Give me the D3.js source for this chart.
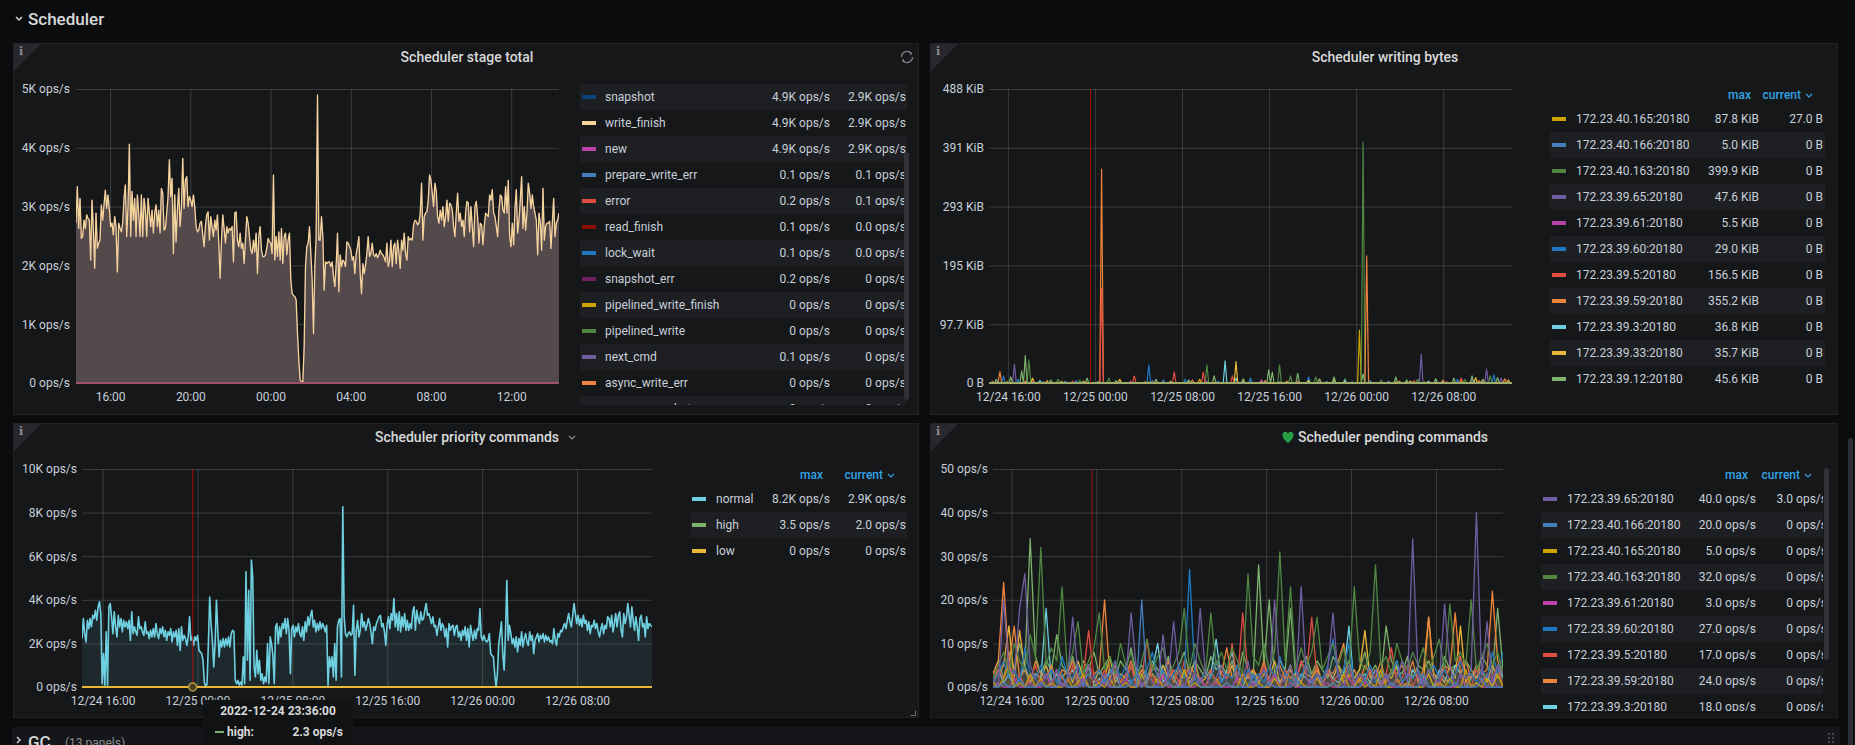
<!DOCTYPE html>
<html>
<head>
<meta charset="utf-8">
<title>Scheduler</title>
<script src="https://cdn.jsdelivr.net/npm/d3@7/dist/d3.min.js"></script>
<style>
body { margin: 0; background: #0b0c0e; overflow: hidden; }
svg text { font-family: Roboto, "Noto Sans", sans-serif; }
</style>
</head>
<body>
<script>

// ---------- data: Scheduler stage total (K ops/s, 2022-12-25 14:18 .. 12-26 14:23) ----------
var stageWriteFinish = [
2.72,3.34,2.63,3.14,2.46,2.49,2.77,2.63,2.86,2.80,2.77,2.09,3.11,2.63,1.95,2.89,2.29,2.38,2.43,3.03,
2.77,3.03,3.28,2.97,3.20,2.94,2.66,2.72,2.52,2.83,2.66,1.89,2.72,2.63,2.57,2.72,3.14,3.37,2.49,3.00,
4.06,2.49,3.26,2.77,3.14,2.49,3.20,2.89,2.49,3.20,2.49,3.14,2.94,2.49,3.14,2.89,2.66,2.94,2.55,2.89,
3.03,2.66,2.94,2.55,3.31,3.23,2.60,2.63,2.89,3.17,3.80,3.17,3.48,2.20,3.20,2.40,2.94,3.31,2.66,2.97,
3.82,2.97,3.45,3.51,3.00,3.17,3.11,3.00,3.20,3.00,2.66,2.57,2.60,2.72,2.75,2.52,2.32,2.66,2.86,2.91,
2.43,2.83,2.66,2.49,2.77,2.60,2.86,2.38,1.78,2.40,2.86,2.63,2.38,2.66,2.55,2.63,2.60,2.66,2.06,2.89,
2.91,2.43,2.32,2.55,2.29,2.38,2.03,2.43,2.83,2.72,2.49,2.26,2.20,2.43,2.23,2.55,1.86,2.49,2.66,2.26,
2.15,2.15,2.18,2.29,2.46,2.40,2.38,2.20,3.54,2.09,2.49,2.15,2.57,2.09,2.63,2.03,2.49,2.55,2.18,2.43,
2.55,1.75,1.52,1.49,1.47,1.41,0.84,0.39,0.05,0.02,0.02,0.61,1.98,2.32,2.38,2.66,2.20,1.75,0.84,1.98,
2.49,4.90,2.43,2.43,
2.83,2.49,1.58,2.06,2.03,2.06,2.06,1.98,2.06,1.81,1.64,2.01,2.55,1.55,2.18,1.98,2.09,2.06,1.98,2.40,
2.38,2.32,2.26,2.09,2.15,1.86,2.20,2.32,2.49,1.86,1.52,2.03,1.86,2.01,2.20,2.49,2.15,2.20,2.38,2.18,
2.15,2.20,2.13,2.18,2.26,2.20,2.18,2.13,2.06,2.38,1.98,2.09,2.43,1.98,2.32,2.38,2.03,2.43,2.23,1.95,
2.43,2.26,2.55,2.20,2.09,2.49,2.43,2.46,2.43,2.69,2.77,2.75,2.69,2.72,2.89,3.40,2.43,2.83,2.89,2.91,
3.11,3.54,3.45,3.23,3.00,3.40,3.26,2.83,2.72,2.94,2.77,3.00,2.66,2.83,3.11,2.75,3.06,3.03,2.94,2.66,
2.49,2.89,3.23,2.75,2.89,2.66,2.77,2.49,2.89,3.09,3.06,2.57,3.00,2.66,2.32,3.00,3.09,2.83,2.38,2.72,
2.69,2.35,2.66,2.89,2.86,2.83,3.20,3.11,3.29,2.89,2.83,2.66,2.49,2.94,3.20,3.17,2.94,2.89,3.34,2.89,
3.45,2.49,2.32,2.72,2.35,2.97,3.29,2.55,2.77,3.11,3.51,2.63,3.00,2.60,2.89,3.40,3.23,2.97,3.20,3.00,
2.89,2.77,2.18,2.89,2.72,2.26,3.31,2.43,2.66,2.72,2.72,2.75,2.29,2.72,3.14,2.49,2.72,2.77,2.89
];
// near-zero stages (ops/s)
var stagePrepareWriteErr = [0.1,0.1,0.1,0.1,0.1,0.1,0.1];
var stageError = [0.1,0.2,0.1,0.1,0.2,0.1,0.1];
var stageReadFinish = [0.1,0.0,0.1,0.0,0.1,0.0,0.0];
var stageLockWait = [0.0,0.1,0.0,0.1,0.0,0.1,0.0];
var stageSnapshotErr = [0.1,0.2,0.0,0.1,0.0,0.2,0];
var stagePipelinedWriteFinish = [0,0,0,0,0,0,0];
var stagePipelinedWrite = [0,0,0,0,0,0,0];
var stageNextCmd = [0.1,0,0,0.1,0,0,0];
var stageAsyncWriteErr = [0,0,0,0,0,0,0];
var stageAsyncSnapshotErr = [0,0,0,0,0,0,0];

var stageNames = ["snapshot","write_finish","new","prepare_write_err","error","read_finish","lock_wait",
  "snapshot_err","pipelined_write_finish","pipelined_write","next_cmd","async_write_err","async_snapshot_err"];
var stageColors = ["#0A437C","#F4D598","#BA43A9","#447EBC","#E24D42","#890F02","#1F78C1",
  "#6D1F62","#CCA300","#508642","#705DA0","#EF843C","#962D82"];
var stageMax = ["4.9K ops/s","4.9K ops/s","4.9K ops/s","0.1 ops/s","0.2 ops/s","0.1 ops/s","0.1 ops/s",
  "0.2 ops/s","0 ops/s","0 ops/s","0.1 ops/s","0 ops/s","0 ops/s"];
var stageCur = ["2.9K ops/s","2.9K ops/s","2.9K ops/s","0.1 ops/s","0.1 ops/s","0.0 ops/s","0.0 ops/s",
  "0 ops/s","0 ops/s","0 ops/s","0 ops/s","0 ops/s","0 ops/s"];

// ---------- data: Scheduler priority commands (K ops/s, 2022-12-24 14:16 .. 12-26 14:19) ----------
var prioNormal = [
2.22,3.14,2.45,2.07,3.06,2.68,3.14,2.76,3.29,3.14,3.52,3.06,3.68,3.91,3.37,0.15,1.53,0.08,2.53,0.08,
3.68,3.83,3.22,2.45,3.45,2.76,2.30,3.29,2.76,3.14,2.53,3.06,2.76,2.99,2.68,3.06,2.14,3.45,2.45,2.76,
2.53,2.37,3.22,2.68,2.76,2.53,2.37,2.99,2.45,2.53,2.22,2.60,2.30,2.68,2.30,2.91,2.45,2.22,2.68,2.45,
2.76,2.30,2.60,2.14,2.53,2.37,2.68,2.07,2.53,2.30,2.60,1.91,2.68,1.68,2.76,2.14,2.37,2.22,1.91,2.30,
3.22,2.14,2.30,1.91,2.30,2.14,2.37,1.68,1.61,1.53,1.23,0.23,0.0,0.15,1.99,4.13,2.91,2.14,0.92,1.99,
3.98,2.60,1.38,2.14,1.84,2.22,1.84,2.22,1.91,2.30,1.84,2.45,2.60,2.53,0.31,0.15,0.31,0.08,0.23,0.08,
1.38,0.15,5.28,1.23,4.44,0.31,5.82,5.05,0.92,0.46,1.68,0.61,1.23,0.31,0.61,0.15,0.46,0.23,1.99,0.15,
2.30,1.99,1.45,0.15,2.76,2.91,1.99,2.76,2.30,2.91,2.68,3.14,2.45,3.14,2.60,0.61,2.68,2.83,2.30,2.76,
2.53,2.91,2.45,2.30,2.76,2.14,2.99,2.53,3.22,2.83,3.29,3.52,2.76,3.06,2.53,2.91,2.60,2.99,2.68,2.91,
2.76,2.53,2.83,0.08,1.38,0.92,1.38,0.46,1.99,0.31,2.76,3.06,3.14,0.46,8.27,3.22,2.45,2.30,2.45,2.53,
2.37,2.45,3.75,0.54,2.60,3.06,2.30,2.60,3.37,
2.76,2.99,2.60,2.83,3.14,2.91,2.53,1.99,2.76,2.60,2.91,3.06,3.22,3.29,2.76,2.91,2.53,1.91,2.91,3.22,
2.68,3.37,3.06,4.06,2.76,3.37,2.60,3.45,2.53,3.22,2.76,3.37,2.60,3.06,2.60,2.91,2.68,3.45,3.68,2.60,
3.52,3.14,2.91,3.45,3.06,3.14,3.52,3.83,3.29,3.37,3.14,2.91,3.22,2.76,2.83,2.37,2.76,3.14,2.60,2.91,
2.76,2.30,2.68,1.84,2.91,2.60,2.76,2.83,2.37,2.76,2.83,2.30,2.53,2.14,2.60,2.37,2.76,2.14,2.68,1.84,
2.83,2.45,2.14,2.60,2.22,2.68,2.60,3.60,2.30,2.14,2.37,2.14,2.07,2.14,2.45,1.53,1.45,1.38,0.61,0.0,
0.61,1.99,2.45,2.99,1.53,0.77,2.45,4.90,2.14,2.83,2.45,1.99,2.22,1.84,2.30,1.61,2.22,1.91,2.53,1.84,
2.22,2.45,2.07,1.91,2.53,2.14,2.37,1.53,2.14,2.30,2.45,2.07,2.37,2.22,2.45,2.07,2.37,2.14,2.30,2.07,
2.14,1.99,2.68,2.14,1.91,2.45,2.30,2.60,2.53,2.76,2.91,2.68,3.06,3.37,2.99,2.76,3.29,3.83,3.37,2.91,
3.29,2.83,3.14,2.76,3.29,2.91,3.06,2.60,2.99,2.45,2.83,2.76,3.06,2.68,2.91,2.53,2.30,2.68,2.91,2.45,
2.83,2.68,3.22,3.14,2.76,3.29,2.53,2.91,3.37,2.76,3.29,3.45,2.60,2.30,3.37,2.91,3.22,3.83,3.29,2.76,
3.68,3.06,2.60,3.22,2.76,2.14,3.14,3.29,2.76,2.91,2.30,3.22,2.68,2.91,2.83,2.76
];
// high / low priority (ops/s)
var prioHigh = [2.3,2.1,2.5,2.0,2.8,2.2,2.4,2.3,1.9,2.6,3.1,2.2,2.0,2.4,2.7,2.1,3.5,2.3,2.2,2.6,2.0,2.4,2.8,2.1,2.5,
  2.3,2.0,2.9,2.2,2.4,2.1,2.6,3.0,2.2,2.3,2.5,2.0,2.7,2.1,2.4,2.2,2.8,2.3,2.0,2.5,2.6,2.1,2.3,2.0];
var prioLow = [0,0,0,0,0,0,0,0,0,0,0,0,0];
var prioNames = ["normal","high","low"];
var prioColors = ["#6ED0E0","#7EB26D","#EAB839"];
var prioMax = ["8.2K ops/s","3.5 ops/s","0 ops/s"];
var prioCur = ["2.9K ops/s","2.0 ops/s","0 ops/s"];

// ---------- data: Scheduler writing bytes (KiB spikes as [slot, value], 289 ten-minute slots) ----------
var instNames = ["172.23.40.165:20180","172.23.40.166:20180","172.23.40.163:20180","172.23.39.65:20180",
  "172.23.39.61:20180","172.23.39.60:20180","172.23.39.5:20180","172.23.39.59:20180","172.23.39.3:20180",
  "172.23.39.33:20180","172.23.39.12:20180"];
var instColors = ["#CCA300","#447EBC","#508642","#705DA0","#BA43A9","#1F78C1","#E24D42","#EF843C","#6ED0E0","#EAB839","#7EB26D"];
var bytesMax = ["87.8 KiB","5.0 KiB","399.9 KiB","47.6 KiB","5.5 KiB","29.0 KiB","156.5 KiB","355.2 KiB","36.8 KiB","35.7 KiB","45.6 KiB"];
var bytesCur = ["27.0 B","0 B","0 B","0 B","0 B","0 B","0 B","0 B","0 B","0 B","0 B"];
var bytesSpikes = [
  [[10,2],[40,3],[60,1],[88,1.5],[116,6],[150,2.5],[176,4],[204,87.8],[224,2],[240,1.5],[260,5],[288,0.03]],
  [[42,3],[96,5.0],[130,1],[160,2],[200,2],[220,3],[270,1]],
  [[22,38],[38,6],[50,5],[66,8],[100,3],[120,30],[140,4],[160,30],[166,12],[180,10],[196,7],[206,399.9],[216,5],[236,6],[250,4],[262,6],[276,12]],
  [[14,31],[30,2],[90,4],[120,3],[144,6],[190,3],[238,47.6],[250,4],[266,5],[274,23],[282,8]],
  [[78,3],[150,5.5],[252,2]],
  [[8,12],[16,6],[48,4],[88,30],[108,6],[126,3],[144,8],[176,10],[210,4],[246,5],[258,6],[278,14]],
  [[2,3],[24,2],[46,3],[62,156.5],[80,11.6],[102,18],[118,18],[134,12],[170,3],[182,7],[196,4],[234,4],[260,8],[272,5]],
  [[6,19],[20,3],[32,4],[62,355.2],[86,2],[112,5],[152,4],[164,3],[208,211],[226,3],[250,5],[270,4],[284,7]],
  [[28,4],[60,2],[110,3],[130,36.8],[136,8],[186,2],[196,4],[242,3]],
  [[24,8],[52,3],[72,6],[100,2],[136,35.7],[140,5],[176,4],[190,6],[232,3],[268,9],[286,5]],
  [[4,6],[12,10],[18,20],[20,45.6],[34,5],[54,8],[70,4],[92,6],[110,5],[124,12],[140,7],[154,22],[156,18],[170,16],
   [182,6],[190,10],[206,15],[224,10],[230,5],[246,7],[256,8],[266,12],[272,6],[280,9]]
];

// ---------- data: Scheduler pending commands (ops/s, 97 slots over 48h) ----------
var pendNames = ["172.23.39.65:20180","172.23.40.166:20180","172.23.40.165:20180","172.23.40.163:20180",
  "172.23.39.61:20180","172.23.39.60:20180","172.23.39.5:20180","172.23.39.59:20180","172.23.39.3:20180",
  "172.23.39.33:20180","172.23.39.12:20180"];
var pendColors = ["#705DA0","#447EBC","#CCA300","#508642","#BA43A9","#1F78C1","#E24D42","#EF843C","#6ED0E0","#EAB839","#7EB26D"];
var pendMax = ["40.0 ops/s","20.0 ops/s","5.0 ops/s","32.0 ops/s","3.0 ops/s","27.0 ops/s","17.0 ops/s","24.0 ops/s","18.0 ops/s","16.0 ops/s","34.0 ops/s"];
var pendCur = ["3.0 ops/s","0 ops/s","0 ops/s","0 ops/s","0 ops/s","0 ops/s","0 ops/s","0 ops/s","0 ops/s","0 ops/s","0 ops/s"];
var pend3965 = [2,0,20,4,3,18,26,5,2,0, 3,1,4,0,2,16,3,0,5,2, 0,3,1,6,0,2,17,4,0,3, 1,0,12,2,15,3,0,4,2,18,
  3,0,2,5,1,0,3,2,6,0, 2,4,0,20,3,1,5,0,23,2, 0,3,1,4,17,2,0,5,1,3, 2,0,4,1,3,0,2,6,1,34, 3,0,4,2,1,19,5,0,3,2, 4,40,2,15,1,5,3];
var pend40166 = [0,0,1,0,0,2,0,0,0,1, 0,0,0,3,0,0,0,1,0,0, 0,2,0,0,0,0,1,0,20,0, 0,0,0,1,0,0,0,0,2,0,
  0,0,0,0,1,0,0,0,0,3, 0,0,1,0,0,0,0,2,0,0, 0,0,0,0,1,0,0,0,0,0, 2,0,0,0,0,1,0,0,0,0, 0,3,0,0,0,0,0,1,0,0, 0,0,2,0,0,0,0];
var pend40165 = [1,0,2,5,0,1,0,3,0,2, 0,1,0,0,2,0,1,3,0,0, 1,0,2,0,0,1,0,0,3,0, 0,2,0,1,0,0,4,0,1,0,
  0,0,2,0,1,0,0,3,0,0, 1,0,0,2,0,0,5,0,1,0, 0,2,0,0,1,0,3,0,0,2, 0,1,0,4,0,0,2,0,1,0, 0,0,3,0,1,0,2,0,0,4, 0,1,0,2,0,3,0];
var pend40163 = [2,5,8,3,10,6,4,12,7,32, 5,9,6,23,4,8,15,3,6,9, 17,4,7,3,10,5,8,2,6,11, 4,7,9,3,5,8,18,4,10,6,
  3,17,5,8,4,9,6,3,26,7, 5,10,4,8,31,6,23,4,9,5, 8,16,4,7,10,5,9,3,23,6, 4,8,28,5,7,3,10,6,4,8, 5,9,3,7,11,4,19,6,8,5, 20,4,7,10,5,8,3];
var pend3961 = [0,1,0,0,2,0,0,1,0,0, 3,0,0,1,0,0,0,2,0,0, 0,1,0,0,0,2,0,0,1,0, 0,0,3,0,0,1,0,0,0,2,
  0,0,1,0,0,0,2,0,0,1, 0,0,0,3,0,0,1,0,0,0, 2,0,0,1,0,0,0,2,0,0, 1,0,0,0,3,0,0,1,0,0, 0,2,0,0,1,0,0,0,3,0, 0,1,0,0,2,0,0];
var pend3960 = [1,3,6,2,4,1,9,3,2,5, 2,4,1,7,3,2,5,1,3,2, 4,1,3,6,2,5,1,3,2,4, 8,2,4,1,3,5,2,27,3,1,
  4,2,6,1,3,2,5,1,4,2, 3,1,5,2,7,3,1,4,2,6, 1,3,2,5,11,2,4,10,1,3, 2,5,1,4,2,3,6,1,3,2, 4,1,3,5,2,4,1,3,6,2, 3,1,4,2,8,3,8];
var pend395 = [1,4,2,6,1,3,0,2,5,1, 3,0,4,2,1,5,0,3,13,2, 1,4,0,3,2,1,5,0,2,11, 1,3,0,2,4,1,6,0,3,2,
  0,4,1,3,2,10,1,17,3,0, 2,5,1,3,0,4,2,1,6,3, 16,2,0,4,1,3,2,5,0,3, 1,4,2,0,3,9,1,2,5,0, 3,1,4,2,0,5,1,3,7,2, 0,4,1,3,2,5,0];
var pend3959 = [3,6,24,5,14,2,4,1,6,3, 2,5,1,4,3,6,2,1,5,3, 4,20,2,5,1,3,6,2,4,1, 5,3,2,6,1,4,2,5,3,1,
  4,2,6,3,9,2,5,1,3,4, 2,6,1,3,5,2,4,1,6,3, 2,5,1,4,3,6,10,2,4,1, 5,3,2,6,1,4,3,5,2,6, 1,4,16,3,2,5,4,17,3,6, 2,5,3,4,22,6,3];
var pend393 = [2,4,1,3,0,2,5,1,3,2, 18,1,3,0,2,4,1,3,5,0, 2,1,4,3,0,2,1,3,0,2, 4,10,1,3,2,0,4,1,3,2,
  0,3,11,1,4,8,2,0,3,1, 2,4,0,3,1,2,5,0,3,2, 1,3,0,4,2,1,3,14,0,2, 3,1,4,0,2,3,6,1,0,4, 2,1,3,0,4,2,1,5,3,0, 2,4,1,3,0,5,2];
var pend3933 = [1,3,5,14,2,13,4,1,3,2, 5,1,3,2,4,1,6,2,3,1, 4,2,7,1,3,2,5,1,4,2, 3,1,5,2,4,1,3,2,6,1,
  2,4,1,3,2,5,1,3,2,4, 1,3,2,6,1,4,2,3,1,5, 2,4,1,3,2,5,1,3,2,4, 13,2,4,1,3,2,5,1,3,2, 4,1,16,2,3,1,5,2,14,1, 3,2,4,1,5,2,3];
var pend3912 = [3,6,2,8,4,10,5,34,7,3, 6,4,12,5,3,7,2,6,4,8, 3,5,7,2,6,4,9,3,5,2, 6,4,3,7,2,5,8,3,6,4,
  2,7,4,5,3,6,2,8,4,3, 28,5,20,3,6,4,18,2,5,7, 3,6,4,2,7,5,3,6,2,4, 8,3,5,2,14,6,4,3,7,2, 5,4,6,3,2,7,4,5,3,6, 4,2,7,5,3,18,4];
var pendValues = [pend3965, pend40166, pend40165, pend40163, pend3961, pend3960, pend395, pend3959, pend393, pend3933, pend3912];
var pendDrawOrder = [10, 9, 8, 7, 6, 5, 4, 3, 2, 0, 1];

var dayRange = [new Date(2022, 11, 25, 14, 18), new Date(2022, 11, 26, 14, 23)];
var twoDayRange = [new Date(2022, 11, 24, 14, 16), new Date(2022, 11, 26, 14, 19)];
var hoverTime = new Date(2022, 11, 24, 23, 36);

// ---------- helpers ----------
var W = 1855, H = 745;
var TXT = "#c7d0d9", TITLE = "#d8d9da", GRID = "rgba(255,255,255,0.16)", BLUE = "#33a2e5";
var PANEL_BG = "#161719", ROW_BG = "#1e1f23";

var svg = d3.select("body").append("svg").attr("width", W).attr("height", H);
var defs = svg.append("defs");
var clipN = 0;
function clipRect(x, y, w, h) {
  var id = "clip" + (clipN++);
  defs.append("clipPath").attr("id", id).append("rect")
    .attr("x", x).attr("y", y).attr("width", w).attr("height", h);
  return "url(#" + id + ")";
}

function spread(range, n) {
  var t0 = +range[0], t1 = +range[1];
  return d3.range(n).map(function(i) { return new Date(t0 + (t1 - t0) * i / (n - 1)); });
}

function fromSpikes(pairs, n) {
  var a = d3.range(n).map(function() { return 0; });
  pairs.forEach(function(p) { a[p[0]] = p[1]; });
  return a;
}

function drawPanel(x, y, w, h, title, cx) {
  var g = svg.append("g");
  g.append("rect").attr("x", x + 0.5).attr("y", y + 0.5).attr("width", w - 1).attr("height", h - 1)
    .attr("fill", PANEL_BG).attr("stroke", "#202226");
  g.append("path").attr("d", "M" + (x + 1) + "," + (y + 1) + "h27l-27,27z").attr("fill", "#26282c");
  g.append("text").attr("x", x + 6).attr("y", y + 12).attr("fill", "#8e8e8e")
    .attr("font-size", 11).attr("font-weight", 700).style("font-family", "'DejaVu Serif', serif").text("i");
  g.append("text").attr("x", cx).attr("y", y + 19).attr("text-anchor", "middle")
    .attr("fill", TITLE).attr("font-size", 14).attr("font-weight", 500).text(title);
  return g;
}

function timeChart(c) {
  var x = d3.scaleTime().domain(c.xDomain).range([c.left, c.right]);
  var y = d3.scaleLinear().domain(c.yDomain).range([c.bottom, c.top]);
  var g = svg.append("g");

  var gy = g.append("g").attr("transform", "translate(" + c.left + ",0)")
    .call(d3.axisLeft(y).tickValues(c.yTicks).tickFormat(c.yFormat)
      .tickSize(-(c.right - c.left)).tickPadding(c.yPad));
  var gx = g.append("g").attr("transform", "translate(0," + c.bottom + ")")
    .call(d3.axisBottom(x).ticks(c.xEvery).tickFormat(c.xFormat)
      .tickSize(-(c.bottom - c.top)).tickPadding(9));
  [gy, gx].forEach(function(a) {
    a.select(".domain").remove();
    a.selectAll("line").attr("stroke", GRID);
    a.selectAll("text").attr("fill", TXT).attr("font-size", 12)
      .style("font-family", "Roboto, 'Noto Sans', sans-serif");
  });

  var plot = g.append("g").attr("clip-path", clipRect(c.left, c.top - 2, c.right - c.left, c.bottom - c.top + 4));
  c.series.forEach(function(s) {
    var times = spread(c.xDomain, s.values.length);
    var pts = s.values.map(function(v, i) { return { t: times[i], v: v * (s.k || 1) }; });
    if (s.fill) {
      plot.append("path").datum(pts)
        .attr("d", d3.area().x(function(d) { return x(d.t); }).y0(y(0)).y1(function(d) { return y(d.v); }))
        .attr("fill", s.fill).attr("fill-opacity", s.fillOpacity || 1);
    }
    if (s.color !== "none") {
      plot.append("path").datum(pts)
        .attr("d", d3.line().x(function(d) { return x(d.t); }).y(function(d) { return y(d.v); }))
        .attr("fill", "none").attr("stroke", s.color).attr("stroke-width", s.width || 1)
        .attr("stroke-linejoin", "round");
    }
  });

  if (c.hover) {
    g.append("line").attr("x1", x(c.hover)).attr("x2", x(c.hover)).attr("y1", c.top).attr("y2", c.bottom)
      .attr("stroke", "#a10f0f").attr("stroke-width", 1);
  }
  return { x: x, y: y, g: g };
}

function drawLegend(c) {
  var g = svg.append("g");
  if (c.clip) g.attr("clip-path", clipRect(c.clip[0], c.clip[1], c.clip[2], c.clip[3]));
  if (c.header) {
    g.append("text").attr("x", c.header.maxX).attr("y", c.header.y + 4).attr("text-anchor", "end")
      .attr("fill", BLUE).attr("font-size", 12).attr("font-weight", 500).text("max");
    g.append("text").attr("x", c.header.curX).attr("y", c.header.y + 4).attr("text-anchor", "end")
      .attr("fill", BLUE).attr("font-size", 12).attr("font-weight", 500).text("current");
    var hx = c.header.curX + 5;
    g.append("path").attr("d", "M" + hx + "," + (c.header.y - 1) + "l3,3l3,-3")
      .attr("fill", "none").attr("stroke", BLUE).attr("stroke-width", 1.2);
  }
  var bottom = c.clip ? c.clip[1] + c.clip[3] : Infinity;
  c.names.forEach(function(n, i) {
    var cy = c.y0 + i * 26;
    if (cy - 13 >= bottom) return; // row scrolled out of view
    if (i % 2 === c.bgParity) {
      g.append("rect").attr("x", c.bgX0).attr("y", cy - 13).attr("width", c.bgX1 - c.bgX0).attr("height", 26)
        .attr("fill", ROW_BG);
    }
    g.append("rect").attr("x", c.swX).attr("y", cy - 2).attr("width", 14).attr("height", 4).attr("fill", c.colors[i]);
    g.append("text").attr("x", c.nameX).attr("y", cy + 4).attr("fill", TXT).attr("font-size", 12).text(n);
    g.append("text").attr("x", c.maxX).attr("y", cy + 4).attr("text-anchor", "end")
      .attr("fill", TXT).attr("font-size", 12).text(c.maxes[i]);
    g.append("text").attr("x", c.curX).attr("y", cy + 4).attr("text-anchor", "end")
      .attr("fill", TXT).attr("font-size", 12).text(c.curs[i]);
  });
}

function opsK(v) { return v === 0 ? "0 ops/s" : v + "K ops/s"; }
function opsPlain(v) { return v + " ops/s"; }
function kib(v) {
  if (v === 0) return "0 B";
  var k = v / 1024;
  return (k >= 100 ? Math.round(k) : k.toFixed(1)) + " KiB";
}
var hm = d3.timeFormat("%H:%M");
var mdhm = d3.timeFormat("%m/%d %H:%M");

// ---------- row header ----------
svg.append("path").attr("d", "M16,17l3,3l3,-3").attr("fill", "none").attr("stroke", TITLE).attr("stroke-width", 1.4);
svg.append("text").attr("x", 28).attr("y", 25).attr("fill", TITLE).attr("font-size", 17)
  .attr("font-weight", 500).text("Scheduler");

// ---------- panel 1: Scheduler stage total ----------
var p1 = drawPanel(13, 43, 906, 372, "Scheduler stage total", 467);
p1.append("path").attr("d", "M901.5,57 A5.5,5.5 0 0 1 911,53.2 M912.5,57 A5.5,5.5 0 0 1 903,60.8")
  .attr("fill", "none").attr("stroke", "#7b7c80").attr("stroke-width", 1.4);
p1.append("path").attr("d", "M909,51.5 l3.2,1.2 l-1.4,3 z M905,62.5 l-3.2,-1.2 l1.4,-3 z").attr("fill", "#7b7c80");

var smallStages = [stagePrepareWriteErr, stageError, stageReadFinish, stageLockWait, stageSnapshotErr,
  stagePipelinedWriteFinish, stagePipelinedWrite, stageNextCmd, stageAsyncWriteErr, stageAsyncSnapshotErr];
var p1Series = [
  { values: stageWriteFinish, color: "none", fill: "#554a4b" },
  { values: stageWriteFinish, color: stageColors[0], width: 0.5 },
  { values: stageWriteFinish, color: stageColors[2], width: 0.5 },
  { values: stageWriteFinish, color: stageColors[1], width: 1.3 }
];
smallStages.forEach(function(v, i) {
  p1Series.push({ values: v, k: 0.001, color: stageColors[i + 3] });
});
timeChart({
  left: 76, right: 559, top: 89, bottom: 383,
  xDomain: dayRange, yDomain: [0, 5], yTicks: [0, 1, 2, 3, 4, 5], yFormat: opsK, yPad: 6,
  xEvery: d3.timeHour.every(4), xFormat: hm, series: p1Series
});
drawLegend({
  names: stageNames, colors: stageColors, maxes: stageMax, curs: stageCur,
  y0: 97, swX: 582, nameX: 605, maxX: 830, curX: 906, bgX0: 580, bgX1: 907, bgParity: 0,
  clip: [578, 84, 332, 321]
});
svg.append("rect").attr("x", 904).attr("y", 152).attr("width", 5).attr("height", 248).attr("rx", 2.5).attr("fill", "#2f3136");

// ---------- panel 2: Scheduler writing bytes ----------
drawPanel(930, 43, 908, 372, "Scheduler writing bytes", 1385);
var p2Order = [0, 1, 2, 3, 4, 5, 7, 6, 8, 9, 10];
timeChart({
  left: 989, right: 1512, top: 89, bottom: 383,
  xDomain: twoDayRange, yDomain: [0, 500000], yTicks: [0, 100000, 200000, 300000, 400000, 500000], yFormat: kib, yPad: 5,
  xEvery: d3.timeHour.every(8), xFormat: mdhm, hover: hoverTime,
  series: p2Order.map(function(i) {
    return { values: fromSpikes(bytesSpikes[i], 289), k: 1024, color: instColors[i], width: 1.2 };
  })
});
drawLegend({
  names: instNames, colors: instColors, maxes: bytesMax, curs: bytesCur,
  y0: 119, swX: 1552, nameX: 1576, maxX: 1759, curX: 1823, bgX0: 1550, bgX1: 1825, bgParity: 1,
  header: { y: 95, maxX: 1751, curX: 1801 }
});

// ---------- panel 3: Scheduler priority commands ----------
drawPanel(13, 423, 906, 295, "Scheduler priority commands", 467);
svg.append("path").attr("d", "M569,436l3,3l3,-3").attr("fill", "none").attr("stroke", "#8e8e8e").attr("stroke-width", 1.2);
svg.append("path").attr("d", "M910.5,715.5h5v-5").attr("fill", "none").attr("stroke", "#6e6f73").attr("stroke-width", 1);
var c3 = timeChart({
  left: 82, right: 652, top: 469, bottom: 687,
  xDomain: twoDayRange, yDomain: [0, 10], yTicks: [0, 2, 4, 6, 8, 10], yFormat: opsK, yPad: 5,
  xEvery: d3.timeHour.every(8), xFormat: mdhm, hover: hoverTime,
  series: [
    { values: prioNormal, color: prioColors[0], fill: prioColors[0], fillOpacity: 0.1, width: 1.6 },
    { values: prioHigh, k: 0.001, color: prioColors[1], width: 2 },
    { values: prioLow, color: prioColors[2], width: 2.2 }
  ]
});
svg.append("circle").attr("cx", c3.x(hoverTime)).attr("cy", c3.y(0.0023)).attr("r", 4)
  .attr("fill", "#4a4022").attr("stroke", "#b09a45").attr("stroke-width", 1.6);
drawLegend({
  names: prioNames, colors: prioColors, maxes: prioMax, curs: prioCur,
  y0: 499, swX: 692, nameX: 716, maxX: 830, curX: 906, bgX0: 690, bgX1: 907, bgParity: 1,
  header: { y: 475, maxX: 823, curX: 883 }
});

// ---------- panel 4: Scheduler pending commands ----------
drawPanel(930, 423, 908, 295, "Scheduler pending commands", 1393);
svg.append("path").attr("d", "M1288,443 C1283.5,439.5 1282.5,437 1282.5,434.5 C1282.5,431.5 1286.5,430.5 1288,433.5 C1289.5,430.5 1293.5,431.5 1293.5,434.5 C1293.5,437 1292.5,439.5 1288,443Z")
  .attr("fill", "#299c46");
timeChart({
  left: 993, right: 1503, top: 469, bottom: 687,
  xDomain: twoDayRange, yDomain: [0, 50], yTicks: [0, 10, 20, 30, 40, 50], yFormat: opsPlain, yPad: 5,
  xEvery: d3.timeHour.every(8), xFormat: mdhm, hover: hoverTime,
  series: pendDrawOrder.map(function(i) {
    return { values: pendValues[i], color: pendColors[i], fill: pendColors[i], fillOpacity: 0.08, width: 1.3 };
  })
});
drawLegend({
  names: pendNames, colors: pendColors, maxes: pendMax, curs: pendCur,
  y0: 499, swX: 1543, nameX: 1567, maxX: 1756, curX: 1827, bgX0: 1541, bgX1: 1825, bgParity: 1,
  header: { y: 475, maxX: 1748, curX: 1800 },
  clip: [1539, 462, 284, 249]
});
svg.append("rect").attr("x", 1824).attr("y", 468).attr("width", 5).attr("height", 192).attr("rx", 2.5).attr("fill", "#2f3136");

// ---------- collapsed GC row ----------
svg.append("rect").attr("x", 12).attr("y", 727).attr("width", 1828).attr("height", 20).attr("fill", "#141619");
svg.append("path").attr("d", "M17,737l3,3l-3,3").attr("fill", "none").attr("stroke", TITLE).attr("stroke-width", 1.4);
svg.append("text").attr("x", 28).attr("y", 748).attr("fill", TITLE).attr("font-size", 17).attr("font-weight", 500).text("GC");
svg.append("text").attr("x", 65).attr("y", 747).attr("fill", "#8e8e8e").attr("font-size", 12).text("(13 panels)");
[1829, 1833].forEach(function(dx) {
  [734, 738, 742].forEach(function(dy) {
    svg.append("circle").attr("cx", dx).attr("cy", dy).attr("r", 1).attr("fill", "#5a5b60");
  });
});

// page scrollbar
svg.append("rect").attr("x", 1848).attr("y", 438).attr("width", 5).attr("height", 310).attr("rx", 2.5).attr("fill", "#2c2e33");

// ---------- hover tooltip ----------
var tip = svg.append("g");
tip.append("rect").attr("x", 203).attr("y", 700).attr("width", 150).attr("height", 50).attr("fill", "#111214");
tip.append("text").attr("x", 278).attr("y", 715).attr("text-anchor", "middle").attr("fill", TITLE)
  .attr("font-size", 12).attr("font-weight", 700).text("2022-12-24 23:36:00");
tip.append("rect").attr("x", 215).attr("y", 731).attr("width", 9).attr("height", 2).attr("fill", prioColors[1]);
tip.append("text").attr("x", 227).attr("y", 736).attr("fill", TITLE)
  .attr("font-size", 12).attr("font-weight", 700).text("high:");
tip.append("text").attr("x", 343).attr("y", 736).attr("text-anchor", "end").attr("fill", TITLE)
  .attr("font-size", 12).attr("font-weight", 700).text("2.3 ops/s");

</script>
</body>
</html>
